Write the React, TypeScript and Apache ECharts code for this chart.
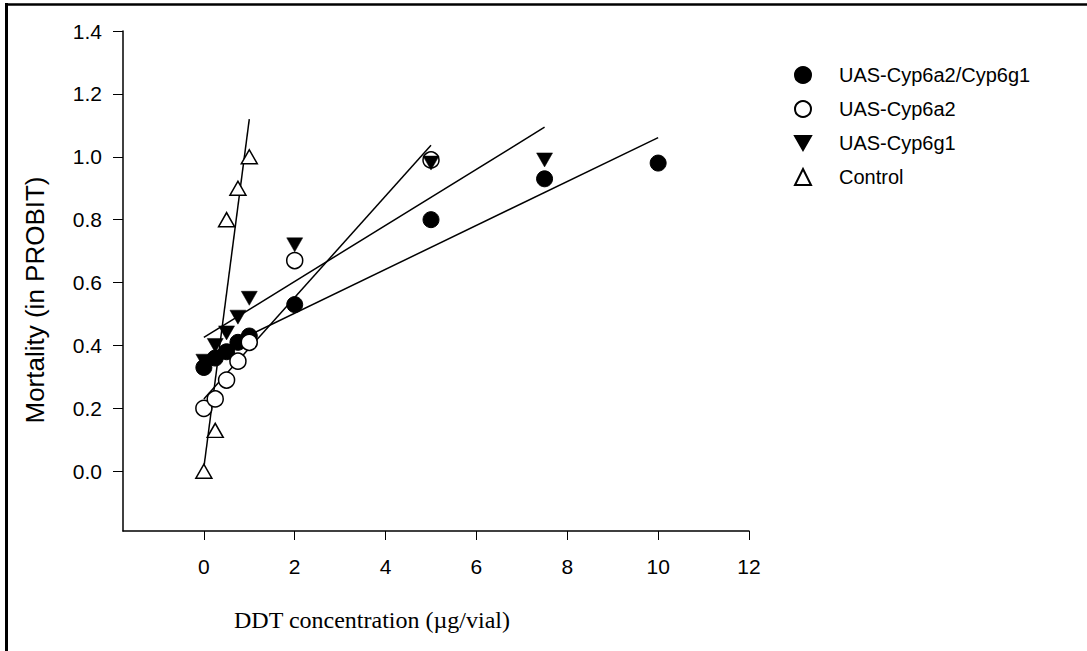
import React, { useEffect, useRef } from "react";
import * as echarts from "echarts";

const seriesNames = ["UAS-Cyp6a2/Cyp6g1", "UAS-Cyp6a2", "UAS-Cyp6g1", "Control"];

const dosesA = [0, 0.25, 0.5, 0.75, 1, 2, 5, 7.5, 10];
const mortA = [0.33, 0.36, 0.38, 0.41, 0.43, 0.53, 0.8, 0.93, 0.98];

const dosesB = [0, 0.25, 0.5, 0.75, 1, 2, 5];
const mortB = [0.2, 0.23, 0.29, 0.35, 0.41, 0.67, 0.99];

const dosesC = [0, 0.25, 0.5, 0.75, 1, 2, 5, 7.5];
const mortC = [0.35, 0.4, 0.44, 0.49, 0.55, 0.72, 0.98, 0.99];

const dosesD = [0, 0.25, 0.5, 0.75, 1];
const mortD = [0, 0.13, 0.8, 0.9, 1.0];

// fitted regression lines (end points)
const fitA = [[0, 0.363], [10, 1.061]];
const fitB = [[0, 0.23], [5, 1.037]];
const fitC = [[0, 0.4255], [7.5, 1.094]];
const fitD = [[0, 0.012], [1.0, 1.12]];

const xTicks = [0, 2, 4, 6, 8, 10, 12];
const yTicks = [0, 0.2, 0.4, 0.6, 0.8, 1.0, 1.2, 1.4];

const xTitle = "DDT concentration (µg/vial)";
const yTitle = "Mortality (in PROBIT)";

const downTri = "path://M0,0 L16,0 L8,14 Z";

function pairs(xs: number[], ys: number[]) {
  return xs.map((x, i) => [x, ys[i]]);
}

export default function App() {
  const ref = useRef<HTMLDivElement>(null);
  useEffect(() => {
    if (!ref.current) return;
    const chart = echarts.init(ref.current, null, { renderer: "svg" });
    const lineStyle = { color: "#000", width: 1.5 };
    const sans = "Liberation Sans, Arial, sans-serif";
    const fitSeries = (d: number[][]) => ({
      type: "line",
      data: d,
      symbol: "none",
      lineStyle,
      z: 1,
      silent: true,
    });
    chart.setOption({
      animation: false,
      backgroundColor: "#fff",
      grid: { left: 123, top: 31, width: 626, height: 500, containLabel: false },
      legend: {
        data: seriesNames,
        orient: "vertical",
        left: 789,
        top: 60,
        itemWidth: 16,
        itemHeight: 16,
        itemGap: 14,
        textStyle: { fontFamily: sans, fontSize: 20, color: "#000", padding: [0, 0, 0, 23] },
      },
      xAxis: {
        type: "value",
        min: -1.78,
        max: 12,
        splitLine: { show: false },
        axisLine: { onZero: false, lineStyle: { color: "#000", width: 1.5 } },
        axisTick: { customValues: xTicks, length: 9, lineStyle: { color: "#000", width: 1 } },
        axisLabel: {
          customValues: xTicks,
          margin: 25,
          fontFamily: sans,
          fontSize: 21,
          color: "#000",
        },
      },
      yAxis: {
        type: "value",
        min: -0.19,
        max: 1.4,
        splitLine: { show: false },
        axisLine: { onZero: false, lineStyle: { color: "#000", width: 1.5 } },
        axisTick: { customValues: yTicks, length: 10, lineStyle: { color: "#000", width: 1 } },
        axisLabel: {
          customValues: yTicks,
          margin: 21,
          fontFamily: sans,
          fontSize: 21,
          color: "#000",
          formatter: (v: number) => v.toFixed(1),
        },
      },
      graphic: [
        { type: "line", shape: { x1: 5, y1: 4.5, x2: 1087, y2: 4.5 }, style: { stroke: "#000", lineWidth: 2.5 } },
        { type: "line", shape: { x1: 6.5, y1: 3, x2: 6.5, y2: 651 }, style: { stroke: "#000", lineWidth: 3 } },
        {
          type: "text",
          x: 372,
          y: 620,
          style: {
            text: xTitle,
            font: "24px 'Liberation Serif', 'Times New Roman', serif",
            fill: "#000",
            textAlign: "center",
            textVerticalAlign: "middle",
          },
        },
        {
          type: "text",
          x: 35,
          y: 300,
          rotation: Math.PI / 2,
          style: {
            text: yTitle,
            font: "26px 'Liberation Sans', Arial, sans-serif",
            fill: "#000",
            textAlign: "center",
            textVerticalAlign: "middle",
          },
        },
      ],
      series: [
        fitSeries(fitA),
        fitSeries(fitB),
        fitSeries(fitC),
        fitSeries(fitD),
        {
          name: seriesNames[0],
          type: "scatter",
          data: pairs(dosesA, mortA),
          symbol: "circle",
          symbolSize: 16,
          itemStyle: { color: "#000", borderColor: "#000", borderWidth: 1, opacity: 1 },
          z: 3,
        },
        {
          name: seriesNames[1],
          type: "scatter",
          data: pairs(dosesB, mortB),
          symbol: "circle",
          symbolSize: 16,
          itemStyle: { color: "#fff", borderColor: "#000", borderWidth: 1.5, opacity: 1 },
          z: 4,
        },
        {
          name: seriesNames[2],
          type: "scatter",
          data: pairs(dosesC, mortC),
          symbol: downTri,
          symbolSize: [16, 14],
          itemStyle: { color: "#000", borderColor: "#000", borderWidth: 0.5, opacity: 1 },
          z: 5,
        },
        {
          name: seriesNames[3],
          type: "scatter",
          data: pairs(dosesD, mortD),
          symbol: "triangle",
          symbolSize: [16, 14],
          itemStyle: { color: "#fff", borderColor: "#000", borderWidth: 1.5, opacity: 1 },
          z: 6,
        },
      ],
    });
    return () => chart.dispose();
  }, []);
  return (
    <div
      ref={ref}
      style={{ position: "fixed", left: 0, top: 0, width: 1087, height: 651, background: "#fff" }}
    />
  );
}
